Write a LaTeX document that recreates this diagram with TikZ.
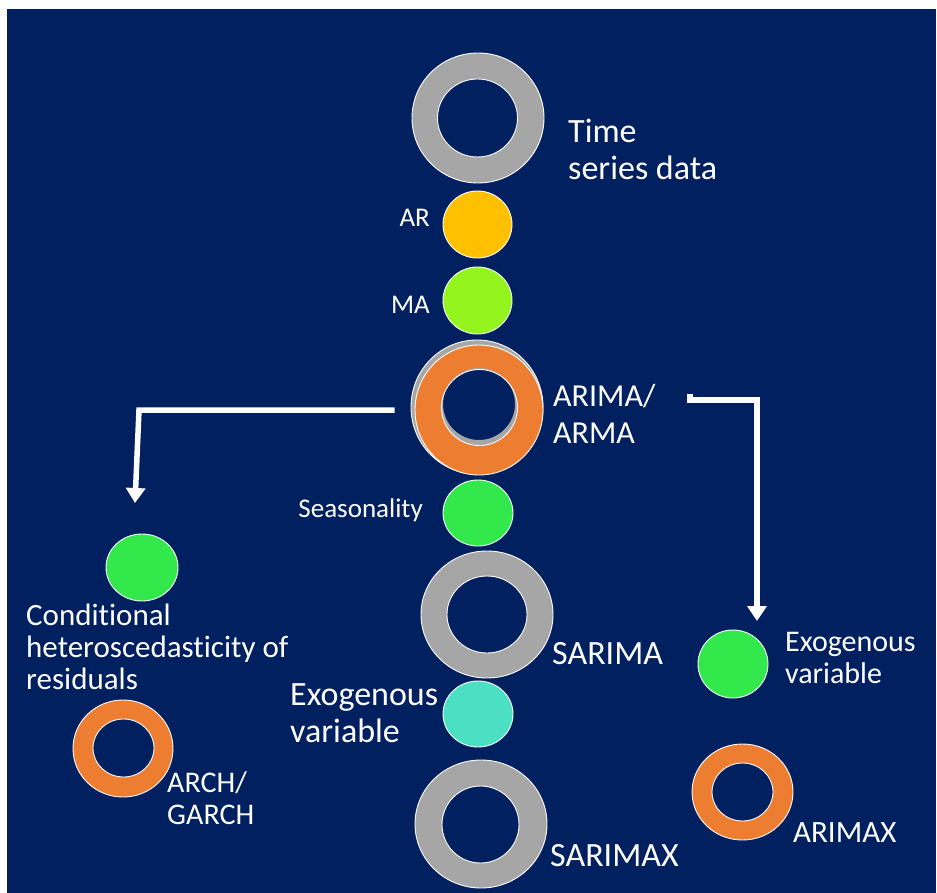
\documentclass[tikz,border=0pt]{standalone}
\usepackage{fontspec}
\setmainfont{Carlito}[Ligatures=NoCommon]
\usetikzlibrary{arrows.meta,shapes.geometric,calc}
\definecolor{navy}{HTML}{002060}
\definecolor{ringgray}{HTML}{A6A6A6}
\definecolor{ringorange}{HTML}{ED7D31}
\definecolor{dotyellow}{HTML}{FFC000}
\definecolor{dotlime}{HTML}{94F51E}
\definecolor{dotgreen}{HTML}{33E84A}
\definecolor{dotteal}{HTML}{4BDFC3}
\begin{document}
\begin{tikzpicture}[x=1pt,y=-1pt,
  blob/.style={ellipse, draw=white, line width=0.9pt, inner sep=0pt},
  hole/.style={blob, fill=navy},
  lbl/.style={text=white, inner sep=0pt, align=left},
  big/.style={font=\fontsize{34}{37}\selectfont},
  small/.style={font=\fontsize{27}{32}\selectfont},
  flow/.style={draw=white, line width=5.5pt, line join=miter,
    -{Triangle[width=19pt,length=15pt]}}]
  % page and backdrop
  \fill[white] (0,0) rectangle (937,893);
  \fill[navy] (7,9) rectangle (936,893);
  \useasboundingbox (0,0) rectangle (937,893);

  % main column
  \node[blob, fill=ringgray, minimum width=132pt, minimum height=130pt] (ts) at (478,118) {};
  \node[hole, minimum width=80pt, minimum height=78pt] (ts-h) at (477.5,118) {};
  \node[blob, fill=dotyellow, minimum width=69pt, minimum height=67pt] (ar) at (477.5,224.5) {};
  \node[blob, fill=dotlime, minimum width=69pt, minimum height=67pt] (ma) at (477.5,300.5) {};
  \node[blob, fill=ringgray, minimum width=132pt, minimum height=134pt] (arma-back) at (477,407) {};
  \node[hole, minimum width=72pt, minimum height=72pt] (arma-back-h) at (479,404) {};
  \node[blob, fill=ringorange, minimum width=128pt, minimum height=130pt] (arima) at (479,410) {};
  \node[blob, fill=navy, draw=none, minimum width=76pt, minimum height=76pt] (arima-h0) at (479.5,407.5) {};
  \fill[ringgray, even odd rule] (479.5,407.5) ellipse[x radius=38pt, y radius=38pt]
     (479,404) ellipse[x radius=36pt, y radius=36pt];
  \draw[white, line width=0.9pt] (479.5,407.5) ellipse[x radius=38pt, y radius=38pt];
  \node[blob, fill=dotgreen, minimum width=70pt, minimum height=66pt] (seas) at (478,513) {};
  \node[blob, fill=ringgray, minimum width=132pt, minimum height=127pt] (sarima) at (487,614.5) {};
  \node[hole, minimum width=80pt, minimum height=77pt] (sarima-h) at (487,614.5) {};
  \node[blob, fill=dotteal, minimum width=70pt, minimum height=66pt] (exo) at (478,714) {};
  \node[blob, fill=ringgray, minimum width=132pt, minimum height=128pt] (sarimax) at (481,824) {};
  \node[hole, minimum width=77pt, minimum height=77pt] (sarimax-h) at (480.5,824.5) {};

  % left branch
  \node[blob, fill=dotgreen, minimum width=72pt, minimum height=67pt] (cond) at (142,567.5) {};
  \node[blob, fill=ringorange, minimum width=100pt, minimum height=97pt] (arch) at (123,748.5) {};
  \node[hole, minimum width=61pt, minimum height=58pt] (arch-h) at (123.5,748) {};

  % right branch
  \node[blob, fill=dotgreen, minimum width=70pt, minimum height=68pt] (rexo) at (733,664) {};
  \node[blob, fill=ringorange, minimum width=101pt, minimum height=96pt] (arimax) at (742.5,792) {};
  \node[hole, minimum width=61pt, minimum height=58pt] (arimax-h) at (742.5,792) {};

  % labels (base anchor of a multi-line label sits on its last line)
  \node[lbl, big, anchor=base west] (t-ts) at (568,180) {Time\\series data};
  \node[lbl, small, anchor=base east] (t-ar) at (430,227) {AR};
  \node[lbl, small, anchor=base east] (t-ma) at (430,313) {MA};
  \node[lbl, font=\fontsize{32}{37}\selectfont, anchor=base west] (t-arima) at (553,443) {ARIMA/\\ARMA};
  \node[lbl, small, anchor=base east] (t-seas) at (423,517) {Seasonality};
  \node[lbl, big, anchor=base west] (t-sarima) at (552,664) {SARIMA};
  \node[lbl, big, anchor=base west] (t-exo) at (290,742) {Exogenous\\variable};
  \node[lbl, big, anchor=base west] (t-sarimax) at (550,866) {SARIMAX};
  \node[lbl, font=\fontsize{31}{32}\selectfont, anchor=base west] (t-cond) at (26,689)
    {Conditional\\heteroscedasticity of\\residuals};
  \node[lbl, font=\fontsize{30}{32}\selectfont, anchor=base west] (t-arch) at (167,824) {ARCH/\\GARCH};
  \node[lbl, font=\fontsize{30}{32}\selectfont, anchor=base west] (t-rexo) at (785,683) {Exogenous\\variable};
  \node[lbl, font=\fontsize{31}{32}\selectfont, anchor=base west] (t-arimax) at (793,842) {ARIMAX};

  % connectors out of ARIMA/ARMA
  \coordinate (l-start) at ($(arima.west)+(-20,0)$);
  \coordinate (l-bend) at (139,410);
  \coordinate (l-end) at (135,503);
  \draw[flow] (l-start) -- (l-bend) -- (l-end);
  \coordinate (r-start) at (690,394);
  \coordinate (r-bend) at (757,400);
  \coordinate (r-end) at (757,621);
  \draw[flow] (r-start) |- (r-bend) -- (r-end);
\end{tikzpicture}
\end{document}
